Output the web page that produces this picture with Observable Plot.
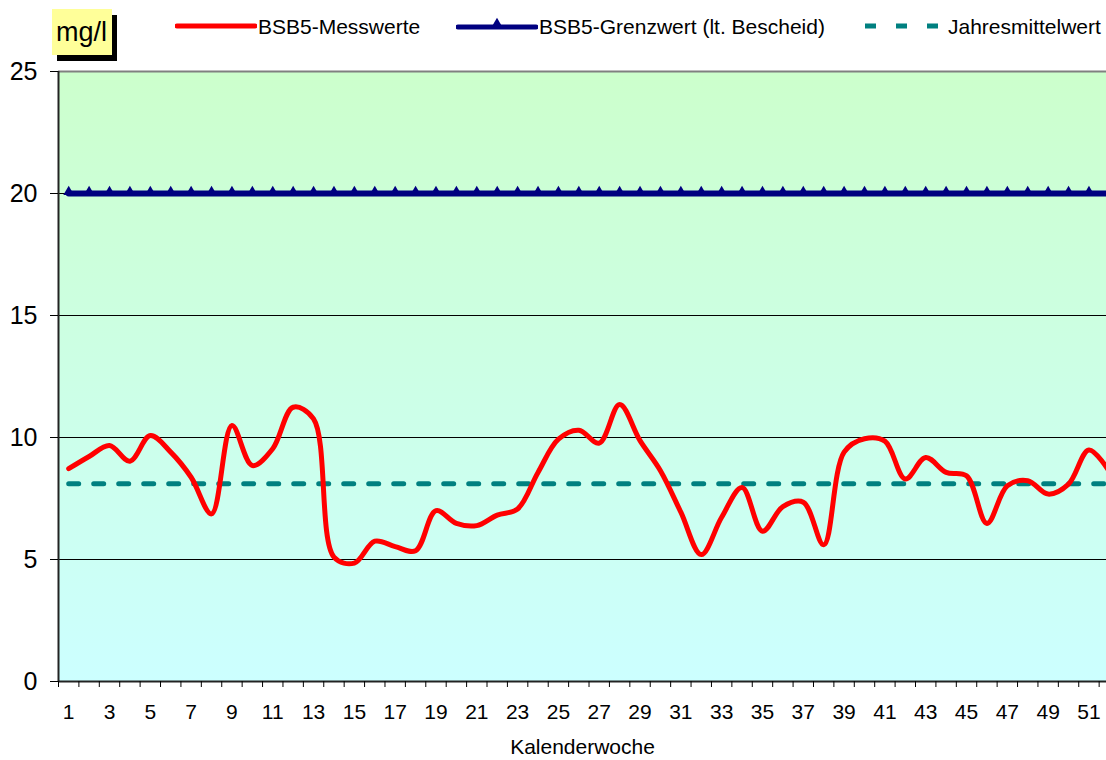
<!DOCTYPE html>
<html>
<head>
<meta charset="utf-8">
<script src="https://cdn.jsdelivr.net/npm/d3@7"></script>
<script src="https://cdn.jsdelivr.net/npm/@observablehq/plot@0.6"></script>
<style>
  html, body { margin: 0; padding: 0; background: #ffffff; overflow: hidden; }
  #wrap { position: relative; width: 1106px; height: 760px; font-family: "Liberation Sans", Arial, sans-serif; color: #000; }
  #legend { position: relative; width: 1106px; height: 50px; z-index: 2; }
  #legend .unit { position: absolute; left: 52px; top: 9px; width: 60px; height: 46px; background: #FFFF99; box-shadow: 5px 6px 0 #000; }
  #legend .unit span { position: absolute; left: 4px; top: 8px; font-size: 27px; line-height: 30px; }
  #legend .item { position: absolute; top: 13px; height: 28px; font-size: 21px; line-height: 28px; white-space: nowrap; }
  #legend svg.sw { position: absolute; top: 13px; }
  #chart svg { display: block; }
</style>
</head>
<body>
<div id="wrap">
  <div id="legend"></div>
  <div id="chart"></div>
</div>
<script>
// ---- data ----
const weeks = [1,2,3,4,5,6,7,8,9,10,11,12,13,14,15,16,17,18,19,20,21,22,23,24,25,26,
               27,28,29,30,31,32,33,34,35,36,37,38,39,40,41,42,43,44,45,46,47,48,49,50,51,52];
const bsb5Messwerte = [8.72, 9.22, 9.67, 9.03, 10.08, 9.4, 8.37, 6.87, 10.49, 8.85,
                       9.54, 11.24, 10.76, 5.1, 4.85, 5.75, 5.53, 5.36, 7.0, 6.48,
                       6.39, 6.82, 7.07, 8.57, 9.93, 10.3, 9.77, 11.35, 9.87, 8.64,
                       6.94, 5.2, 6.73, 7.95, 6.16, 7.17, 7.35, 5.6, 9.4, 9.95,
                       9.85, 8.3, 9.18, 8.57, 8.43, 6.48, 8.02, 8.23, 7.68, 8.09,
                       9.49, 8.6];
const bsb5Grenzwert = 20;
const jahresmittelwert = 8.1;
const yTicks = [0, 5, 10, 15, 20, 25];
const gridValues = [5, 10, 15, 20];
const xTickLabels = [1,3,5,7,9,11,13,15,17,19,21,23,25,27,29,31,33,35,37,39,41,43,45,47,49,51];
const seriesNames = ["BSB5-Messwerte", "BSB5-Grenzwert (lt. Bescheid)", "Jahresmittelwert"];
const unitLabel = "mg/l";
const xTitle = "Kalenderwoche";

// ---- tables ----
const messTable = weeks.map((w, i) => ({week: w, value: bsb5Messwerte[i]}));
const grenzTable = weeks.map(w => ({week: w, value: bsb5Grenzwert}));
const mittelTable = weeks.map(w => ({week: w, value: jahresmittelwert}));
const boundaries = weeks.map(w => w - 0.5);

const colRed = "#FF0000", colNavy = "#000080", colTeal = "#008080";

// ---- legend ----
const legend = d3.select("#legend");
legend.append("div").attr("class", "unit").append("span").text(unitLabel);

function swatch(left, width, draw) {
  const s = legend.append("svg").attr("class", "sw").attr("width", width).attr("height", 28)
    .style("left", left + "px");
  draw(s);
}
swatch(175, 82, s => s.append("line").attr("x1", 2).attr("x2", 80).attr("y1", 13).attr("y2", 13)
  .attr("stroke", colRed).attr("stroke-width", 5).attr("stroke-linecap", "round"));
legend.append("div").attr("class", "item").style("left", "258px").text(seriesNames[0]);

swatch(456, 82, s => {
  s.append("line").attr("x1", 2).attr("x2", 80).attr("y1", 14).attr("y2", 14)
    .attr("stroke", colNavy).attr("stroke-width", 5).attr("stroke-linecap", "round");
  s.append("path").attr("d", d3.symbol(d3.symbolTriangle, 50)()).attr("transform", "translate(41,11)")
    .attr("fill", colNavy);
});
legend.append("div").attr("class", "item").style("left", "539px").text(seriesNames[1]);

swatch(862, 80, s => s.append("line").attr("x1", 3).attr("x2", 78).attr("y1", 13).attr("y2", 13)
  .attr("stroke", colTeal).attr("stroke-width", 5).attr("stroke-dasharray", "11,20"));
legend.append("div").attr("class", "item").style("left", "948px").text(seriesNames[2]);

// ---- chart ----
const chart = Plot.plot({
  width: 1106,
  height: 710,
  marginTop: 21,
  marginBottom: 79,
  marginLeft: 58,
  marginRight: 0,
  style: {fontFamily: "'Liberation Sans', Arial, sans-serif", color: "#000", background: "transparent", overflow: "hidden"},
  x: {type: "linear", domain: [0.5, 51.86]},
  y: {domain: [0, 25]},
  marks: [
    Plot.frame({fill: "url(#bgGrad)", stroke: null}),
    Plot.ruleY(gridValues, {stroke: "#000", strokeWidth: 1}),
    Plot.ruleY([yTicks[yTicks.length - 1]], {stroke: "#808080", strokeWidth: 2}),
    Plot.line(mittelTable, {x: "week", y: "value", stroke: colTeal, strokeWidth: 5, strokeDasharray: "10,15", clip: true}),
    Plot.line(grenzTable, {x: "week", y: "value", stroke: colNavy, strokeWidth: 6, clip: true}),
    Plot.dot(grenzTable, {x: "week", y: "value", symbol: "triangle", r: 4, dy: -1.5, fill: colNavy, stroke: null, clip: true}),
    Plot.line(messTable, {x: "week", y: "value", stroke: colRed, strokeWidth: 5, curve: "catmull-rom",
                          strokeLinejoin: "round", strokeLinecap: "round", clip: true}),
    Plot.ruleX([boundaries[0]], {stroke: "#222", strokeWidth: 2}),
    Plot.ruleY([yTicks[0]], {stroke: "#222", strokeWidth: 2}),
    Plot.axisY({ticks: yTicks, tickSize: 8, tickPadding: 13, fontSize: 25, label: null, stroke: "#000"}),
    Plot.axisX({ticks: boundaries, tickSize: 6, tickFormat: () => "", label: null, stroke: "#000"}),
    Plot.axisX({ticks: xTickLabels, tickSize: 0, tickPadding: 23, fontSize: 21, tickFormat: d => String(d),
                label: xTitle, labelAnchor: "center", labelOffset: 72, labelArrow: "none"})
  ]
});

d3.select(chart).insert("defs", ":first-child").html(
  '<linearGradient id="bgGrad" x1="0" y1="0" x2="0" y2="1">' +
  '<stop offset="0" stop-color="#CCFFCC"/><stop offset="1" stop-color="#CCFFFF"/></linearGradient>');

document.getElementById("chart").appendChild(chart);
</script>
</body>
</html>
